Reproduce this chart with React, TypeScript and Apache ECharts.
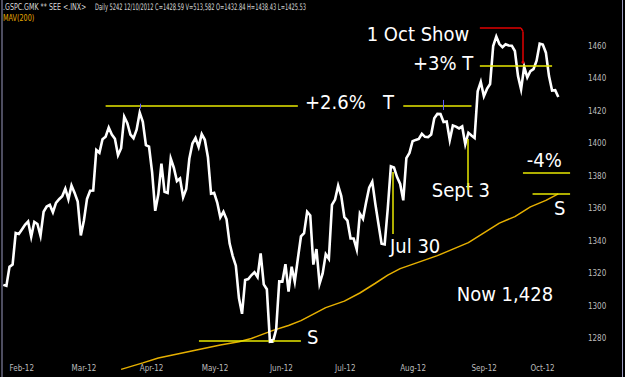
import React, { useEffect, useRef } from 'react';
import * as echarts from 'echarts';

// Daily closes, 30 Jan 2012 .. 12 Oct 2012 (one per trading day, index 0..179)
const closes: number[] = [
  1313.0, 1312.4,
  1324.1, 1325.5, 1344.9, 1344.3, 1347.1, 1350.0, 1352.0, 1342.6, 1351.8, 1350.5,
  1343.2, 1358.0, 1361.2, 1362.2, 1357.7, 1363.5, 1365.7, 1367.6, 1372.2, 1365.7,
  1374.1, 1369.6, 1364.3, 1343.4, 1352.6, 1365.9, 1370.9, 1371.1, 1396.0, 1394.3,
  1402.6, 1404.2, 1409.8, 1405.5, 1402.9, 1392.8, 1397.1, 1416.5, 1412.5, 1405.5,
  1403.3, 1408.5,
  1419.0, 1413.4, 1399.0, 1398.1, 1382.2, 1358.6, 1368.7, 1387.6, 1370.3, 1369.6,
  1390.8, 1385.1, 1376.9, 1378.5, 1366.9, 1372.0, 1390.7, 1400.0, 1403.4, 1397.9,
  1405.8, 1402.3, 1391.6, 1369.1, 1369.6, 1363.7, 1354.6, 1358.0, 1353.4, 1338.4,
  1330.7, 1324.8, 1304.9, 1295.2, 1316.0, 1316.6, 1318.9, 1320.7, 1317.8, 1332.4,
  1313.3, 1310.3,
  1278.0, 1278.2, 1285.5, 1315.1, 1315.0, 1325.7, 1308.9, 1324.2, 1314.9, 1329.1,
  1342.8, 1344.8, 1358.0, 1355.7, 1325.5, 1335.0, 1313.7, 1320.0, 1331.9, 1329.0,
  1362.2,
  1365.5, 1374.0, 1367.6, 1354.7, 1352.5, 1341.5, 1341.5, 1334.8, 1356.8, 1353.6,
  1363.7, 1372.8, 1376.5, 1362.7, 1350.5, 1338.3, 1337.9, 1360.0, 1386.0, 1385.3,
  1379.3,
  1375.1, 1365.0, 1391.0, 1394.2, 1401.4, 1402.2, 1402.8, 1405.9, 1404.1, 1403.9,
  1405.5, 1415.5, 1418.2, 1418.1, 1413.2, 1413.5, 1402.1, 1411.1, 1410.4, 1409.3,
  1410.5, 1399.5, 1406.6,
  1404.9, 1403.4, 1432.1, 1437.9, 1429.1, 1433.6, 1436.6, 1460.0, 1465.8, 1461.2,
  1459.3, 1461.1, 1460.3, 1460.2, 1456.9, 1441.6, 1433.3, 1447.2, 1440.7,
  1444.5, 1445.8, 1451.0, 1461.4, 1460.9, 1455.9, 1441.5, 1432.6, 1432.8, 1428.6,
];

// 200-day moving average (read at selected trading-day indices)
const maIdx: number[] = [38, 45, 50, 55, 60, 65, 70, 76, 80, 87, 92, 96, 100, 104, 110, 115, 120, 124, 128, 134, 140, 145, 150, 155, 160, 165, 170, 175, 179];
const maVal: number[] = [1261, 1265, 1268, 1270, 1272, 1274, 1276, 1278, 1280, 1285, 1288, 1291, 1295, 1299, 1303, 1308, 1314, 1319, 1323, 1327, 1331, 1335, 1339, 1345, 1351, 1355, 1361, 1365, 1369];

const monthIdx: number[] = [2, 22, 44, 64, 86, 107, 128, 151, 170];
const monthLabels: string[] = ['Feb-12', 'Mar-12', 'Apr-12', 'May-12', 'Jun-12', 'Jul-12', 'Aug-12', 'Sep-12', 'Oct-12'];
const yTicks: number[] = [1280, 1300, 1320, 1340, 1360, 1380, 1400, 1420, 1440, 1460];

const YEL = '#e8e800';
const RED = '#e00000';
const ANN_FONT = '"DejaVu Sans Condensed", "DejaVu Sans", sans-serif';
const SMALL_FONT = '"Liberation Sans Narrow", "Arial Narrow", "DejaVu Sans Condensed", sans-serif';

function seg(a: number[], b: number[], color: string, width = 1.5) {
  return [
    { coord: a, lineStyle: { color, width, type: 'solid' } },
    { coord: b },
  ];
}

export default function App() {
  const ref = useRef<HTMLDivElement>(null);
  useEffect(() => {
    document.body.style.margin = '0';
    document.body.style.background = '#000';
    const chart = echarts.init(ref.current!, null, { renderer: 'svg' });
    const annText = (text: string, x: number, y: number) => ({
      type: 'text', x, y,
      style: { text, fill: '#ffffff', font: `20px ${ANN_FONT}`, verticalAlign: 'middle', align: 'left' },
    });
    chart.setOption({
      animation: false,
      backgroundColor: '#000000',
      grid: { left: 3.3, right: 48.1, top: 20, bottom: 6, containLabel: false },
      xAxis: {
        type: 'value', min: 0, max: 185,
        axisLine: { show: false }, axisTick: { show: false }, splitLine: { show: false },
        axisLabel: {
          customValues: monthIdx,
          formatter: (v: number) => monthLabels[monthIdx.indexOf(v)] ?? '',
          align: 'left', margin: -7, color: '#bdbdbd', fontSize: 8, fontFamily: SMALL_FONT,
        },
      },
      yAxis: {
        type: 'value', position: 'right', min: 1260, max: 1476, interval: 20,
        axisLine: { show: false }, axisTick: { show: false }, splitLine: { show: false },
        axisLabel: {
          formatter: (v: number) => (yTicks.includes(v) ? String(v) : ''),
          margin: 11, color: '#bdbdbd', fontSize: 8, fontFamily: SMALL_FONT,
        },
      },
      series: [
        {
          type: 'line', name: 'MAV(200)', showSymbol: false, symbol: 'none',
          data: maIdx.map((x, i) => [x, maVal[i]]),
          lineStyle: { color: '#e6b000', width: 1.5 },
          z: 2,
        },
        {
          type: 'line', name: 'SPX', showSymbol: false, symbol: 'none',
          data: closes.map((v, i) => [i, v]),
          lineStyle: { color: '#ffffff', width: 2.6, join: 'miter', miterLimit: 6 },
          z: 3,
          markLine: {
            silent: true, symbol: ['none', 'none'], label: { show: false },
            data: [
              seg([33, 1423], [95, 1423], YEL),
              seg([129, 1423], [151, 1423], YEL),
              seg([153.7, 1448], [177, 1448], YEL),
              seg([125.7, 1382.5], [125.7, 1344.3], YEL),
              seg([149.8, 1402.8], [149.8, 1371.4], YEL),
              seg([167.6, 1382], [182.8, 1382], YEL),
              seg([170.7, 1369], [182.8, 1369], YEL),
              seg([63.1, 1278.5], [96, 1278.5], YEL),
              seg([153.7, 1471], [167, 1471], RED),
              seg([167, 1471], [167.6, 1469], RED),
              seg([167.6, 1469], [167.6, 1450], RED),
              seg([44.1, 1421.5], [44.1, 1424.5], '#6060ff', 1),
              seg([141.9, 1420.6], [141.9, 1426.8], '#6060ff', 1),
            ],
          },
          markPoint: {
            silent: true, label: { show: false },
            data: [
              { coord: [167.6, 1450], symbol: 'circle', symbolSize: 3, itemStyle: { color: RED } },
              { coord: [86.3, 1278.5], symbol: 'rect', symbolSize: 4, itemStyle: { color: '#ffffff' } },
            ],
          },
        },
      ],
      graphic: [
        { type: 'line', shape: { x1: 2, y1: 0, x2: 2, y2: 377 }, style: { stroke: '#9a9ac0', lineWidth: 1 } },
        { type: 'line', shape: { x1: 622.5, y1: 0, x2: 622.5, y2: 377 }, style: { stroke: '#9a9ac0', lineWidth: 1 } },
        { type: 'text', x: 3, y: 7, scaleX: 0.78, style: { text: '.GSPC.GMK ** SEE <.INX>', fill: '#d8d8d8', font: `9px ${SMALL_FONT}`, verticalAlign: 'middle' } },
        { type: 'text', x: 95, y: 7, scaleX: 0.63, style: { text: 'Daily 5242 12/10/2012 C=1428.59 V=513,582 O=1432.84 H=1438.43 L=1425.53', fill: '#d8d8d8', font: `9px ${SMALL_FONT}`, verticalAlign: 'middle' } },
        { type: 'text', x: 3, y: 18, scaleX: 0.8, style: { text: 'MAV(200)', fill: '#e6a800', font: `9px ${SMALL_FONT}`, verticalAlign: 'middle' } },
        annText('1 Oct Show', 366.7, 34),
        annText('+3% T', 413, 63),
        annText('+2.6%', 305, 102),
        annText('T', 383, 102),
        annText('Sept 3', 431.7, 190),
        annText('Jul 30', 390, 246),
        annText('Now 1,428', 456.7, 294),
        annText('-4%', 526.7, 160),
        annText('S', 554, 208),
        annText('S', 307, 337),
      ],
    });
    return () => chart.dispose();
  }, []);
  return <div ref={ref} style={{ width: 625, height: 377, background: '#000' }} />;
}
